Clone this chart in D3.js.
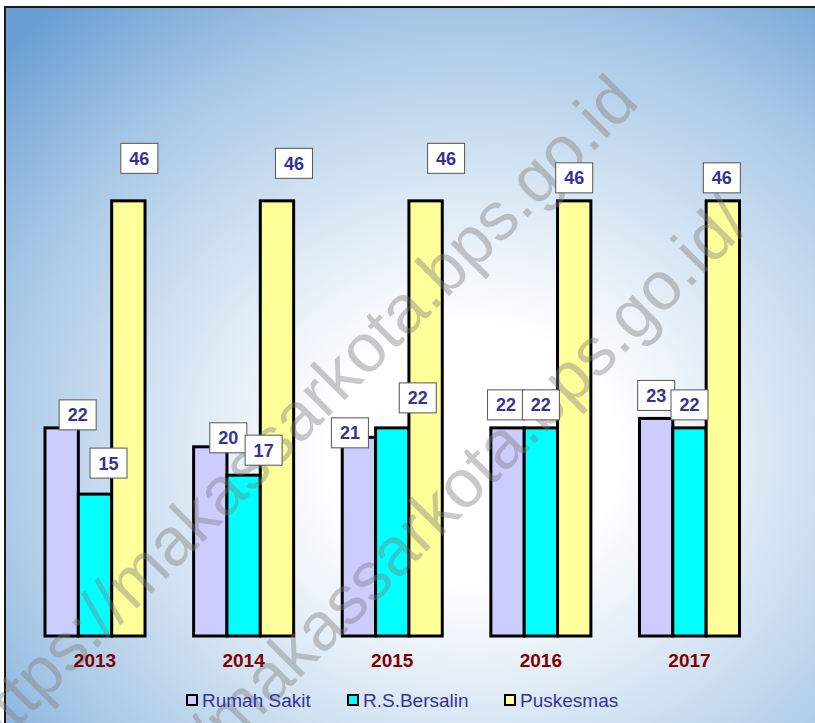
<!DOCTYPE html>
<html>
<head>
<meta charset="utf-8">
<script src="https://cdn.jsdelivr.net/npm/d3@7"></script>
<style>
  body { margin: 0; background: #fff; }
  svg { display: block; font-family: Arial, "Liberation Sans", sans-serif; }
</style>
</head>
<body>
<div id="chart"></div>
<script>
// data
const years = ["2013", "2014", "2015", "2016", "2017"];
const series = ["Rumah Sakit", "R.S.Bersalin", "Puskesmas"];
const rumahSakit = [22, 20, 21, 22, 23];
const rsBersalin = [15, 17, 22, 22, 22];
const puskesmas = [46, 46, 46, 46, 46];
const colors = ["#CCCCFF", "#00FFFF", "#FFFF99"];

// manual nudges of the data labels (dx, dy), per year then per series
const nudge = [
  [[16, 10], [13.5, -8], [11, -19.5]],
  [[18, 14], [20, -2], [17, -14.5]],
  [[-9, 18.5], [25.5, -7], [20.5, -19.5]],
  [[-1.5, 0], [0, 0], [0, 0]],
  [[0, 0], [0, 0], [-1, 0]]
];

const w = 815;
const h = 723;

const svg = d3.select("#chart").append("svg")
  .attr("width", w)
  .attr("height", h);

// background gradient
const defs = svg.append("defs");
const grad = defs.append("radialGradient")
  .attr("id", "bg")
  .attr("cx", 0.56).attr("cy", 0.6).attr("r", 0.78)
  .attr("fx", 0.56).attr("fy", 0.6);
[[0, "#ffffff"], [0.22, "#ffffff"], [0.5, "#d3e3f2"], [0.75, "#a7c7e6"], [1, "#6a9fd3"]]
  .forEach(s => grad.append("stop").attr("offset", s[0]).attr("stop-color", s[1]));

svg.append("rect")
  .attr("x", 5).attr("y", 7)
  .attr("width", w + 20).attr("height", h + 20)
  .attr("fill", "url(#bg)")
  .attr("stroke", "#1a1a1a")
  .attr("stroke-width", 2);

// scales
const x0 = d3.scaleBand()
  .domain(years)
  .range([20.7, 763.8])
  .paddingInner(0.327)
  .paddingOuter(0.1635);

const x1 = d3.scaleBand()
  .domain(series)
  .range([0, x0.bandwidth()]);

const y = d3.scaleLinear()
  .domain([0, 50])
  .range([636, 163]);

const rows = years.map((yr, i) => ({
  year: yr,
  values: [rumahSakit[i], rsBersalin[i], puskesmas[i]]
}));

// bars
const groups = svg.append("g")
  .selectAll("g")
  .data(rows)
  .join("g")
  .attr("transform", d => "translate(" + x0(d.year) + ",0)");

groups.selectAll("rect")
  .data(d => d.values.map((v, j) => ({ key: series[j], value: v, j: j })))
  .join("rect")
  .attr("x", d => x1(d.key))
  .attr("y", d => y(d.value))
  .attr("width", x1.bandwidth())
  .attr("height", d => y(0) - y(d.value))
  .attr("fill", d => colors[d.j])
  .attr("stroke", "#000")
  .attr("stroke-width", 3);

// watermark
const wm = svg.append("g")
  .attr("fill", "#7f7f7f")
  .attr("opacity", 0.42)
  .style("font-size", "68px");

wm.append("text")
  .attr("text-anchor", "end")
  .attr("transform", "translate(641,104) rotate(-45)")
  .text("https://makassarkota.bps.go.id");

wm.append("text")
  .attr("text-anchor", "end")
  .attr("transform", "translate(752,226) rotate(-45)")
  .text("https://makassarkota.bps.go.id/");

// data labels
const labels = [];
rows.forEach((r, i) => {
  r.values.forEach((v, j) => {
    labels.push({
      value: v,
      cx: x0(r.year) + x1(series[j]) + x1.bandwidth() / 2 + nudge[i][j][0],
      cy: y(v) - 23 + nudge[i][j][1]
    });
  });
});

const lab = svg.append("g")
  .selectAll("g")
  .data(labels)
  .join("g")
  .attr("transform", d => "translate(" + d.cx + "," + d.cy + ")");

lab.append("rect")
  .attr("x", -18.5).attr("y", -15)
  .attr("width", 37).attr("height", 30)
  .attr("fill", "#fff")
  .attr("stroke", "#555")
  .attr("stroke-width", 1);

lab.append("text")
  .attr("text-anchor", "middle")
  .attr("dy", "0.36em")
  .attr("fill", "#333399")
  .style("font-size", "18px")
  .style("font-weight", "bold")
  .text(d => d.value);

// year axis
const xAxis = d3.axisBottom(x0).tickSize(0).tickPadding(17.5);
const ax = svg.append("g")
  .attr("transform", "translate(0," + y(0) + ")")
  .call(xAxis);
ax.select(".domain").remove();
ax.selectAll("text")
  .attr("fill", "#800000")
  .style("font-family", "Arial, 'Liberation Sans', sans-serif")
  .style("font-size", "19px")
  .style("font-weight", "bold");

// legend
const legendX = [187, 348, 505];
const legend = svg.append("g")
  .selectAll("g")
  .data(series)
  .join("g")
  .attr("transform", (d, i) => "translate(" + legendX[i] + ",695)");

legend.append("rect")
  .attr("width", 10).attr("height", 10)
  .attr("fill", (d, i) => colors[i])
  .attr("stroke", "#000")
  .attr("stroke-width", 2);

legend.append("text")
  .attr("x", 15)
  .attr("y", 12)
  .attr("fill", "#333399")
  .style("font-size", "19px")
  .text(d => d);
</script>
</body>
</html>
